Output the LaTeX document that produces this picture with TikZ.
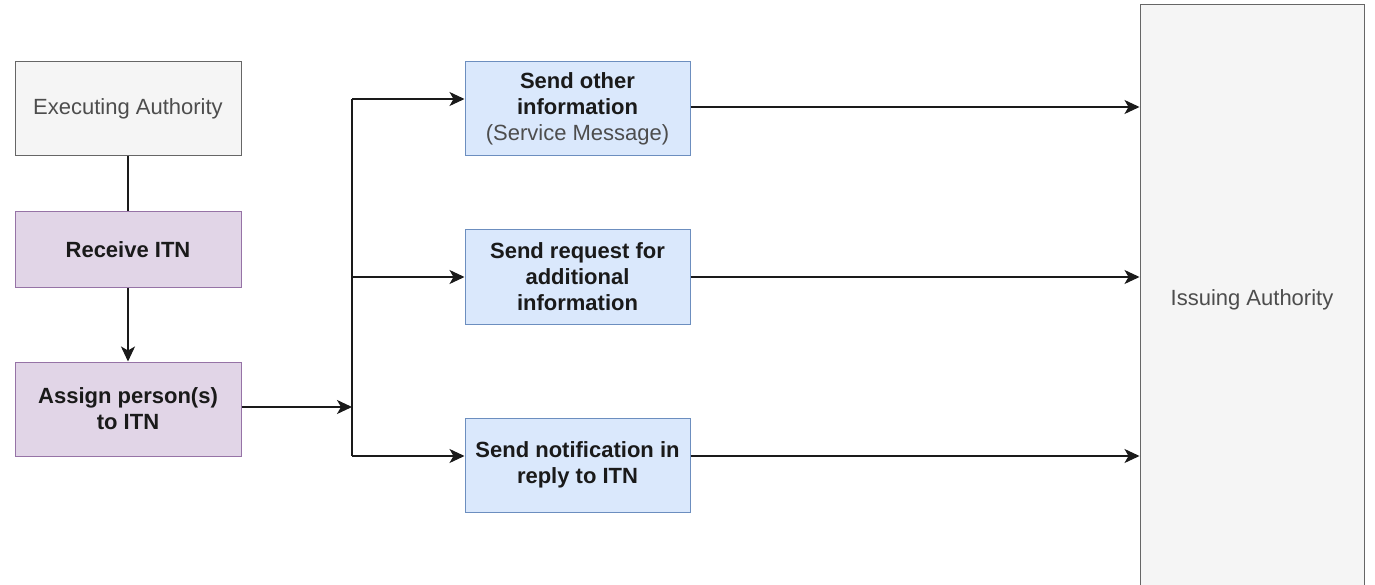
\documentclass[tikz,border=0pt]{standalone}
\usepackage{fontspec}
\setmainfont{Liberation Sans}
\usetikzlibrary{arrows.meta}
\definecolor{greyfill}{HTML}{F5F5F5}
\definecolor{greyline}{HTML}{666666}
\definecolor{greytext}{HTML}{4D4D4D}
\definecolor{purplefill}{HTML}{E1D5E7}
\definecolor{purpleline}{HTML}{9673A6}
\definecolor{bluefill}{HTML}{DAE8FC}
\definecolor{blueline}{HTML}{6C8EBF}
\definecolor{ink}{HTML}{1A1A1A}

\begin{document}
\begin{tikzpicture}[x=1pt,y=-1pt,
  box/.style={draw, rectangle, line width=1pt, inner sep=0pt, align=center,
    font=\fontsize{22}{26}\selectfont},
  actor/.style={box, fill=greyfill, draw=greyline, text=greytext},
  task/.style={box, fill=purplefill, draw=purpleline, text=ink,
    font=\fontsize{22}{26}\selectfont\bfseries},
  msg/.style={box, fill=bluefill, draw=blueline, text=ink,
    font=\fontsize{22}{26}\selectfont\bfseries},
  link/.style={line width=1.5pt, draw=ink},
  flow/.style={link, -{Stealth[length=15pt,width=14pt,inset=4pt]}}]

\clip (0,0) rectangle (1375,585);
\fill[white] (0,0) rectangle (1375,585);

% executing side
\node[actor, minimum width=226, minimum height=94] (exec) at (128,109) {Executing Authority};
\node[task, minimum width=226, minimum height=75] (recv) at (128,249.5) {Receive ITN};
\node[task, minimum width=226, minimum height=94] (assign) at (128,409) {Assign person(s)\\to ITN};

% outgoing messages
\node[msg, minimum width=225, minimum height=94] (other) at (577.5,109)
  {Send other\\information\\{\mdseries\color{greytext}(Service Message)}};
\node[msg, minimum width=225, minimum height=94] (request) at (577.5,277)
  {Send request for\\additional\\information};
\node[msg, minimum width=225, minimum height=94] (notify) at (577.5,465)
  {Send notification in\\reply to ITN};

% issuing side
\node[actor, minimum width=224, minimum height=590] (issuing) at (1252,300) {Issuing Authority};

% branch points
\coordinate (split) at (352,407);
\coordinate (top) at (352,99);
\coordinate (bottom) at (352,456);

\draw[link] (exec.south) -- (recv.north);
\draw[flow] (recv.south) -- (assign.north);
\draw[flow] (assign.east |- split) -- (split);
\draw[link] (top) -- (bottom);
\draw[flow] (top) -- (top -| other.west);
\draw[flow] (352,277) -- (request.west);
\draw[flow] (bottom) -- (bottom -| notify.west);

\draw[flow] (other.east |- 0,107) -- (issuing.west |- 0,107);
\draw[flow] (request.east) -- (request.east -| issuing.west);
\draw[flow] (notify.east |- 0,456) -- (issuing.west |- 0,456);
\end{tikzpicture}
\end{document}
